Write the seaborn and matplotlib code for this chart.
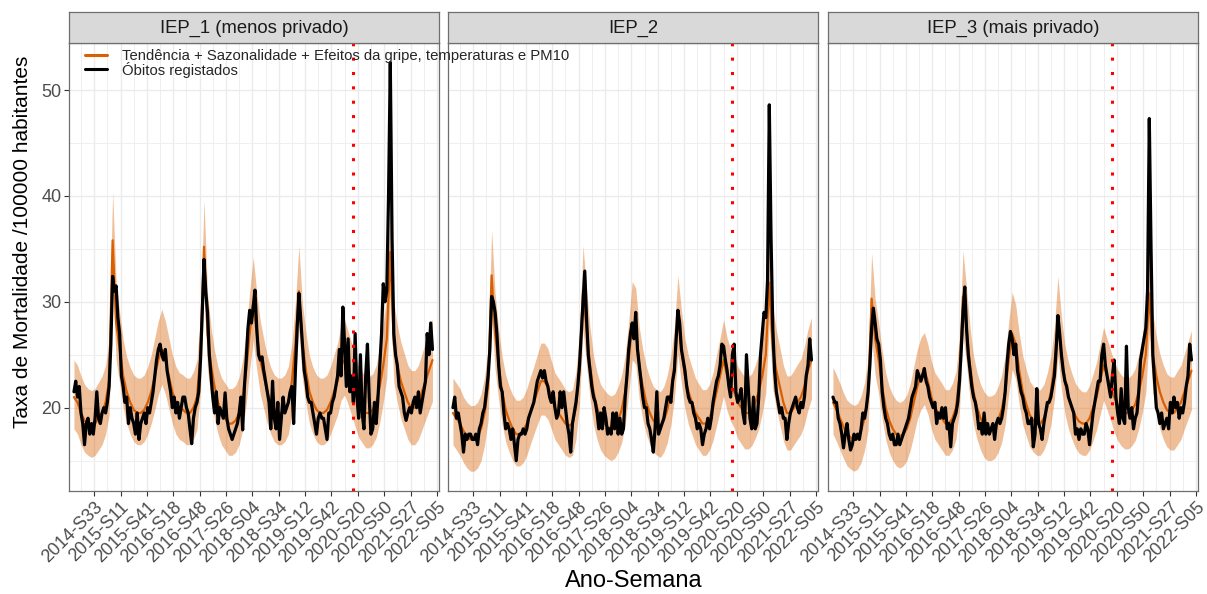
import numpy as np
import pandas as pd
import seaborn as sns
import matplotlib.pyplot as plt
from matplotlib.lines import Line2D

sns.set_style("white")
plt.rcParams['font.family'] = ['Liberation Sans', 'DejaVu Sans']

# facets and x axis labels (one label every 30 weeks)
panels = ['IEP_1 (menos privado)', 'IEP_2', 'IEP_3 (mais privado)']
week_labels = ['2014-S33', '2015-S11', '2015-S41', '2016-S18', '2016-S48', '2017-S26', '2018-S04',
               '2018-S34', '2019-S12', '2019-S42', '2020-S20', '2020-S50', '2021-S27', '2022-S05']
first_label_week = 23
covid_week = 317.5

# registered deaths, one value every 2 weeks (week 0 = first week of the series)
obs_1 = [21.5, 22.5, 21, 22, 19.5, 18.5, 16.5, 18.5, 19, 17.5, 18.5, 17.5, 19, 21.5, 19, 18.5, 19.5, 20, 19.5, 20.5,
         22, 26, 32.4, 31, 31.5, 28.5, 27, 23, 22, 20.5, 21, 18.5, 20, 19, 18.5, 17.5, 19.5, 17, 18.5, 19,
         19.5, 18.5, 20, 19.5, 20.5, 21.5, 23, 24.5, 25.5, 26, 25, 24.5, 25.5, 23.5, 22.5, 21.5, 20, 21, 19.5, 20.5,
         19, 20, 21, 21, 20, 19.5, 18, 16.6, 19, 20, 20.5, 21.5, 24.5, 29, 34, 31, 29, 25, 23, 21,
         19.5, 21.5, 18.5, 20, 19.5, 19, 21.4, 19, 18, 17.5, 17, 17.5, 18, 18.5, 19.5, 21, 17.9, 22, 24.5, 27.5,
         29.2, 28, 29.5, 31.1, 27.5, 25, 24.5, 24.8, 23.5, 22.5, 21.5, 20.5, 18, 22.5, 19, 18, 20.5, 17, 19, 21,
         19.5, 20, 20.5, 21.5, 22, 18.5, 23.5, 27.5, 30.8, 28.5, 26, 23.5, 22.5, 21, 20.5, 20.5, 19.5, 18.5, 17.5, 19,
         19.5, 19, 19, 18, 17, 19.5, 19.5, 20.5, 21, 22, 23, 25.5, 23, 29.5, 26, 22, 26.5, 21.5, 23, 20.5,
         27, 21, 19, 25, 19.5, 18, 23, 26, 21, 17.5, 18, 20.5, 18.5, 21, 24, 26.9, 31.7, 30, 31, 40,
         52.6, 36, 27, 25, 24, 22, 21.5, 21, 19.5, 18.8, 19.5, 20, 19.5, 20.5, 21, 20, 21.5, 19.5, 20.5, 21.5,
         22.5, 27, 25, 28, 25.5]
obs_2 = [20, 21, 19, 19.5, 18.5, 17.5, 15.8, 17.5, 17, 17.5, 17.5, 17, 17, 17.5, 16.5, 18, 18.5, 19.5, 20, 21.5,
         23, 25.5, 30.5, 30, 29, 27, 24, 22, 21.5, 19.5, 18, 18.5, 18, 17, 18, 16.5, 15, 17, 17.5, 17.5,
         18, 17.5, 18, 19, 19.5, 20, 20.5, 21.5, 22.5, 23, 23.5, 22.8, 23.5, 22.5, 22, 21, 20.5, 21.5, 20, 19,
         19.5, 21.5, 20, 21.5, 20, 18.5, 17.5, 15.8, 18.5, 19.5, 20.5, 22, 24, 27, 30, 32.9, 28.5, 25, 23.5, 22,
         21, 20.5, 19.5, 18, 19.5, 18, 20, 19, 17.5, 18, 17.5, 19.5, 18, 19.5, 17.5, 19, 17.5, 18, 21, 23,
         25.5, 27, 28, 26.5, 29, 25.5, 24, 22.5, 21, 20, 20, 18.5, 18, 17, 15.8, 18, 21.5, 17.5, 18, 18.5,
         19, 20, 21, 21, 20.5, 22.5, 23.5, 26.5, 29.2, 28, 25.5, 24.5, 23.5, 22, 21, 20.5, 20.5, 19.5, 19, 18,
         18.5, 18, 16.5, 17.5, 18, 19, 18, 19, 20.5, 21.5, 22.5, 23, 24, 26, 25.8, 24.5, 23.5, 22, 21, 25,
         26, 21.5, 20.5, 21, 21.8, 19.5, 18.5, 25, 22, 19, 18, 21, 18, 18.5, 21, 25, 27, 29, 28.5, 32,
         48.6, 36, 27.5, 23.5, 21.5, 20.5, 19.5, 20, 19, 19, 17, 18.5, 19.5, 20, 20.5, 21, 20, 19.5, 20.5, 20,
         21, 23, 24, 26.5, 24.5]
obs_3 = [21, 20.5, 20.5, 19, 18.5, 17.5, 16.2, 17.5, 18.5, 17, 16, 16.5, 17.5, 17, 17.5, 17, 18, 19.5, 19, 20,
         21.5, 24, 27.5, 29.4, 28, 26.5, 26, 24.5, 21.5, 20, 19, 18.5, 17.5, 17, 17.5, 16.5, 16.5, 17.5, 16.5, 17,
         17.5, 18, 18.5, 19, 20, 21, 21.5, 22, 23.5, 23, 22.5, 23, 23.7, 22.5, 22, 21, 20.5, 20, 20.5, 18.5,
         19.5, 19, 20, 19, 20, 18, 18.5, 16.3, 18.5, 19, 19.5, 20.5, 22.5, 25.5, 29, 31.4, 27.5, 25, 23.5, 22,
         21, 20.5, 19.5, 18, 18.5, 17.5, 19.5, 17.5, 18.5, 17.5, 18, 18.5, 17, 18.5, 19, 18.5, 19, 20, 21.5, 24,
         26, 27.2, 26.5, 25, 26, 23.5, 22.5, 21.5, 21, 20, 19.5, 18.5, 18.5, 19, 16.3, 17.5, 21.8, 18.5, 18, 17,
         18.5, 19.5, 20.5, 20.5, 21, 22, 23, 25.5, 28.7, 27, 25, 23.5, 22.5, 22, 21, 20.5, 20, 19.5, 17.5, 18,
         17, 18, 17.5, 17.5, 18.5, 18, 16.5, 18, 19.5, 20.5, 21.5, 22.5, 22.5, 25, 26, 24, 23, 22, 21, 23,
         24.5, 21, 19.5, 18.5, 21.8, 19, 18.5, 25.8, 20, 19, 20, 18, 19, 19.5, 21.5, 24.5, 25.5, 26.5, 27.5, 31,
         47.3, 35, 25, 22.5, 20, 19.5, 18.5, 19.5, 18, 18.5, 19, 18, 20.5, 19.5, 21, 20, 20.5, 19, 20, 19.5,
         20.5, 22, 23, 26, 24.5]

# model (trend + seasonality + flu, temperature and PM10), one value every 4 weeks
fit_1 = [21, 20.5, 19.5, 18.8, 18.5, 18.3, 18.5, 19, 19.5, 20.5, 22.5, 35.8, 28, 25.5, 23, 21.5, 20.5, 19.8, 19.5, 19.5,
         19.8, 20.5, 21.5, 23, 24.5, 25.5, 24.5, 23, 21.5, 20.5, 20, 19.8, 19.5, 19.5, 20, 21, 25, 35.2, 27, 24,
         22, 20.5, 19.5, 19, 18.5, 18.5, 18.8, 19.5, 21, 23.5, 27, 30, 27, 24.5, 23, 21.5, 20.5, 19.8, 19.5, 19.5,
         19.8, 20.5, 22.5, 26, 31, 26, 23.5, 21.5, 20.5, 19.8, 19.5, 19.5, 19.8, 20.5, 21.5, 22.5, 24, 24.5, 23.5, 22.5,
         21.5, 20.5, 20, 19.5, 19.5, 19.8, 20.5, 22, 24, 26.5, 34.7, 26, 24, 22.5, 21.5, 20.5, 20, 20, 20.5, 21.5,
         22.5, 23.5, 24.5]
lo_1 = [18, 17.5, 16.5, 15.8, 15.5, 15.3, 15.5, 16, 16.5, 17.5, 19.3, 31.5, 24.5, 22.3, 20, 18.5, 17.5, 16.8, 16.5, 16.5,
        16.8, 17.5, 18.5, 19.8, 21.2, 22.2, 21.3, 19.9, 18.5, 17.5, 17, 16.8, 16.5, 16.5, 17, 17.9, 21.6, 31, 23.6, 20.8,
        18.9, 17.5, 16.5, 16, 15.5, 15.5, 15.8, 16.5, 17.9, 20.3, 23.6, 26.4, 23.6, 21.3, 19.9, 18.5, 17.5, 16.8, 16.5, 16.5,
        16.8, 17.5, 19.4, 22.7, 27.3, 22.7, 20.4, 18.5, 17.5, 16.8, 16.5, 16.5, 16.8, 17.5, 18.4, 19.3, 20.7, 21.2, 20.3, 19.3,
        18.2, 17.2, 16.7, 16.2, 16.2, 16.5, 17.2, 18.6, 20.5, 22.8, 30.5, 22.4, 20.5, 19, 18, 17, 16.5, 16.5, 17, 17.9,
        18.8, 19.7, 20.6]
hi_1 = [24.5, 24, 23, 22.2, 21.8, 21.6, 21.8, 22.4, 23, 24, 26.3, 40.4, 31.8, 29, 26.4, 24.8, 23.8, 23.1, 22.8, 22.8,
        23.1, 23.9, 25, 26.6, 28.2, 29.3, 28.2, 26.6, 25, 23.9, 23.3, 23.1, 22.8, 22.8, 23.4, 24.5, 28.8, 39.6, 30.8, 27.6,
        25.4, 23.8, 22.8, 22.3, 21.8, 21.8, 22.1, 22.9, 24.5, 27.2, 31, 34.2, 30.9, 28.2, 26.5, 24.9, 23.8, 23.1, 22.8, 22.8,
        23.1, 23.9, 26.1, 29.9, 35.3, 29.8, 27.1, 24.9, 23.8, 23.1, 22.8, 22.8, 23.1, 23.9, 25, 26.1, 27.8, 28.3, 27.2, 26.1,
        25, 23.9, 23.4, 22.9, 22.9, 23.2, 24, 25.7, 27.9, 30.6, 39.3, 30, 27.8, 26.2, 25.1, 24, 23.5, 23.5, 24, 25.1,
        26.2, 27.3, 28.4]
fit_2 = [19.5, 19, 18.5, 17.8, 17.3, 17, 17, 17.3, 18, 19.5, 22, 32.5, 27, 24, 21.5, 19.8, 18.8, 18, 17.5, 17.5,
         17.8, 18.5, 19.5, 20.5, 21.5, 22.5, 22.5, 22, 21, 20, 19.5, 19, 18.5, 18.3, 18.5, 20, 23.5, 31, 27.5, 24,
         21.5, 20, 19, 18.5, 18.2, 18, 18.2, 18.8, 19.8, 21.5, 24.5, 28, 27.5, 24, 22, 20.5, 19.5, 18.8, 18.5, 18.3,
         18.8, 19.8, 21.5, 24, 28.5, 25.5, 23, 21.5, 20.5, 19.5, 19, 18.5, 18.5, 19, 20, 21.5, 23, 24.5, 23, 22,
         21.5, 20.5, 20, 19.5, 19.5, 19.8, 20.5, 21.5, 23, 25, 31.8, 25.5, 23.5, 22, 20.5, 19.5, 19.5, 20, 20.5, 21,
         22, 23.5, 24.5]
lo_2 = [16.5, 16, 15.5, 14.8, 14.3, 14, 14, 14.3, 15, 16.5, 18.8, 28.8, 23.6, 20.8, 18.4, 16.8, 15.8, 15, 14.5, 14.5,
        14.8, 15.5, 16.5, 17.5, 18.4, 19.3, 19.3, 18.9, 18, 17, 16.5, 16, 15.5, 15.3, 15.5, 17, 20.3, 27.4, 24.1, 20.8,
        18.4, 17, 16, 15.5, 15.2, 15, 15.2, 15.8, 16.7, 18.4, 21.3, 24.5, 24.1, 20.8, 18.9, 17.5, 16.5, 15.8, 15.5, 15.3,
        15.8, 16.7, 18.4, 20.8, 25, 22.3, 19.9, 18.4, 17.5, 16.5, 16, 15.5, 15.5, 16, 16.9, 18.3, 19.7, 21.1, 19.7, 18.7,
        18.1, 17.1, 16.6, 16.1, 16.1, 16.4, 17.1, 18, 19.5, 21.4, 28, 21.8, 19.9, 18.4, 16.9, 16, 16, 16.5, 17, 17.5,
        18.4, 19.8, 20.8]
hi_2 = [22.8, 22.3, 21.8, 21, 20.5, 20.2, 20.2, 20.5, 21.3, 22.9, 25.6, 36.8, 30.8, 27.4, 24.8, 23.1, 22, 21.2, 20.7, 20.7,
        21, 21.8, 22.9, 23.9, 25, 26.1, 26.1, 25.6, 24.4, 23.3, 22.8, 22.3, 21.7, 21.5, 21.7, 23.4, 27.1, 35.3, 31.3, 27.6,
        24.9, 23.3, 22.2, 21.7, 21.3, 21.1, 21.3, 22, 23.1, 24.9, 28.1, 31.9, 31.3, 27.6, 25.5, 23.9, 22.8, 22, 21.7, 21.5,
        22, 23.1, 24.9, 27.6, 32.5, 29.2, 26.5, 24.9, 23.8, 22.8, 22.2, 21.7, 21.7, 22.2, 23.3, 25, 26.6, 28.3, 26.6, 25.5,
        25, 23.9, 23.4, 22.9, 22.9, 23.2, 24, 25.1, 26.8, 29, 36.2, 29.5, 27.3, 25.7, 24, 23, 23, 23.5, 24.1, 24.6,
        25.8, 27.4, 28.5]
fit_3 = [20.5, 19.8, 19, 18.2, 17.5, 17.2, 17, 17.2, 17.8, 19, 21, 30.3, 26.5, 24.5, 22, 20, 18.8, 18, 17.5, 17.3,
         17.5, 18, 19, 20.5, 22, 23, 23.5, 22.5, 21, 20, 19.5, 19, 18.5, 18.5, 19, 20, 23, 30.5, 27.5, 24,
         21.5, 20, 19, 18.3, 18, 18, 18.2, 18.8, 19.8, 21.5, 24.5, 27, 26, 23.5, 21.5, 20.3, 19.3, 18.8, 18.5, 18.5,
         19, 20, 21.5, 24, 28.3, 25, 22.5, 21, 20, 19.2, 18.7, 18.5, 18.5, 19, 20, 21, 22.5, 24, 23, 22,
         21, 20.3, 19.8, 19.5, 19.5, 19.8, 20.3, 21.5, 23, 25, 30.8, 25, 23, 21.5, 20.5, 19.8, 19.5, 19.5, 20, 20.5,
         21.5, 22.5, 23.5]
lo_3 = [17.5, 16.8, 16, 15.2, 14.5, 14.2, 14, 14.2, 14.8, 16, 17.9, 26.7, 23.1, 21.3, 18.9, 17, 15.8, 15, 14.5, 14.3,
        14.5, 15, 16, 17.4, 18.9, 19.8, 20.3, 19.4, 18, 17, 16.5, 16, 15.5, 15.5, 16, 17, 19.8, 26.9, 24.1, 20.8,
        18.4, 17, 16, 15.3, 15, 15, 15.2, 15.8, 16.7, 18.4, 21.3, 23.6, 22.7, 20.3, 18.4, 17.3, 16.3, 15.8, 15.5, 15.5,
        16, 16.9, 18.4, 20.8, 24.9, 21.8, 19.4, 18, 17, 16.2, 15.7, 15.5, 15.5, 16, 16.9, 17.9, 19.3, 20.7, 19.8, 18.8,
        17.7, 16.9, 16.4, 16.1, 16.1, 16.4, 16.9, 18, 19.5, 21.4, 27, 21.4, 19.5, 18, 17, 16.3, 16, 16, 16.5, 17,
        18, 18.9, 19.8]
hi_3 = [23.8, 23.1, 22.3, 21.4, 20.7, 20.4, 20.2, 20.4, 21.1, 22.4, 24.6, 34.6, 30.3, 28, 25.4, 23.3, 22, 21.2, 20.7, 20.5,
        20.7, 21.2, 22.3, 23.9, 25.5, 26.6, 27.1, 26, 24.4, 23.3, 22.8, 22.3, 21.7, 21.7, 22.3, 23.4, 26.6, 34.8, 31.3, 27.6,
        24.9, 23.3, 22.2, 21.5, 21.1, 21.1, 21.3, 22, 23.1, 24.9, 28.1, 30.9, 29.7, 27, 24.9, 23.6, 22.5, 22, 21.7, 21.7,
        22.2, 23.3, 24.9, 27.6, 32.4, 28.6, 25.9, 24.3, 23.2, 22.3, 21.8, 21.5, 21.5, 22.1, 23.2, 24.3, 26, 27.6, 26.5, 25.4,
        24.4, 23.6, 23.1, 22.8, 22.8, 23.1, 23.7, 25, 26.7, 28.9, 35.2, 28.9, 26.7, 25.1, 24, 23.2, 22.9, 22.9, 23.5, 24,
        25.1, 26.2, 27.3]

series = [(obs_1, fit_1, lo_1, hi_1), (obs_2, fit_2, lo_2, hi_2), (obs_3, fit_3, lo_3, hi_3)]

ORANGE = '#D95F02'
BORDER = '#6E6E6E'
W, H = 1207, 594
fig = plt.figure(figsize=(W / 100, H / 100), dpi=100)

lefts = [69.3, 448.3, 828.3]
pw = 369.5
major_x = [first_label_week + 30 * k for k in range(len(week_labels))]
minor_x = [first_label_week - 15 + 30 * k for k in range(len(week_labels))]

for p, (name, (obs, fit, lo, hi)) in enumerate(zip(panels, series)):
    ax = fig.add_axes([lefts[p] / W, 103 / H, pw / W, 448 / H])
    obs_df = pd.DataFrame({'semana': np.arange(len(obs)) * 2, 'taxa': obs})
    fit_df = pd.DataFrame({'semana': np.arange(len(fit)) * 4, 'taxa': fit, 'lo': lo, 'hi': hi})

    ax.fill_between(fit_df['semana'], fit_df['lo'], fit_df['hi'], color=ORANGE, alpha=0.4, lw=0, zorder=2)
    sns.lineplot(data=fit_df, x='semana', y='taxa', ax=ax, color=ORANGE, lw=1.6, zorder=3)
    sns.lineplot(data=obs_df, x='semana', y='taxa', ax=ax, color='black', lw=2.3, zorder=4)
    ax.axvline(covid_week, color='#FF0000', lw=2.2, linestyle=(0, (1, 3.7)), zorder=5)

    ax.set_xlim(-5.3, 415.2)
    ax.set_ylim(12.13, 54.44)
    ax.set_xticks(major_x)
    ax.set_xticks(minor_x, minor=True)
    ax.set_xticklabels(week_labels, rotation=45, ha='right', rotation_mode='anchor')
    ax.set_yticks([20, 30, 40, 50])
    ax.set_yticks([15, 25, 35, 45], minor=True)
    ax.grid(which='major', color='#EBEBEB', lw=1.0, zorder=0)
    ax.grid(which='minor', color='#EFEFEF', lw=0.7, zorder=0)
    ax.set_axisbelow(True)
    ax.set_xlabel('')
    ax.set_ylabel('')
    ax.tick_params(axis='both', which='major', length=3.5, width=0.8, color='#333333',
                   labelcolor='#4D4D4D', labelsize=13, pad=2, bottom=True, left=(p == 0))
    ax.tick_params(axis='both', which='minor', length=0)
    if p > 0:
        ax.set_yticklabels([])
    for sp in ax.spines.values():
        sp.set_color(BORDER)
        sp.set_linewidth(0.9)

    strip = fig.add_axes([lefts[p] / W, 551 / H, pw / W, 31 / H])
    strip.set_facecolor('#D9D9D9')
    strip.set_xticks([])
    strip.set_yticks([])
    for sp in strip.spines.values():
        sp.set_color(BORDER)
        sp.set_linewidth(0.9)
    strip.text(0.5, 0.47, name, ha='center', va='center', fontsize=13.3, color='#1A1A1A',
               transform=strip.transAxes)

fig.text(23 / W, 1 - 242 / H, 'Taxa de Mortalidade /100000 habitantes', rotation=90,
         ha='center', va='center', fontsize=15, color='black')
fig.text(634 / W, 1 - 581 / H, 'Ano-Semana', ha='center', va='center', fontsize=17, color='black')

handles = [Line2D([], [], color=ORANGE, lw=2.2), Line2D([], [], color='black', lw=2.2)]
labels = ['Tendência + Sazonalidade + Efeitos da gripe, temperaturas e PM10', 'Óbitos registados']
fig.legend(handles, labels, loc='upper left', bbox_to_anchor=(85 / W, 1 - 49 / H), frameon=False,
           fontsize=10.7, handlelength=1.5, handletextpad=1.0, labelspacing=-0.1,
           borderpad=0, borderaxespad=0)

fig.savefig('out.png', dpi=100)
